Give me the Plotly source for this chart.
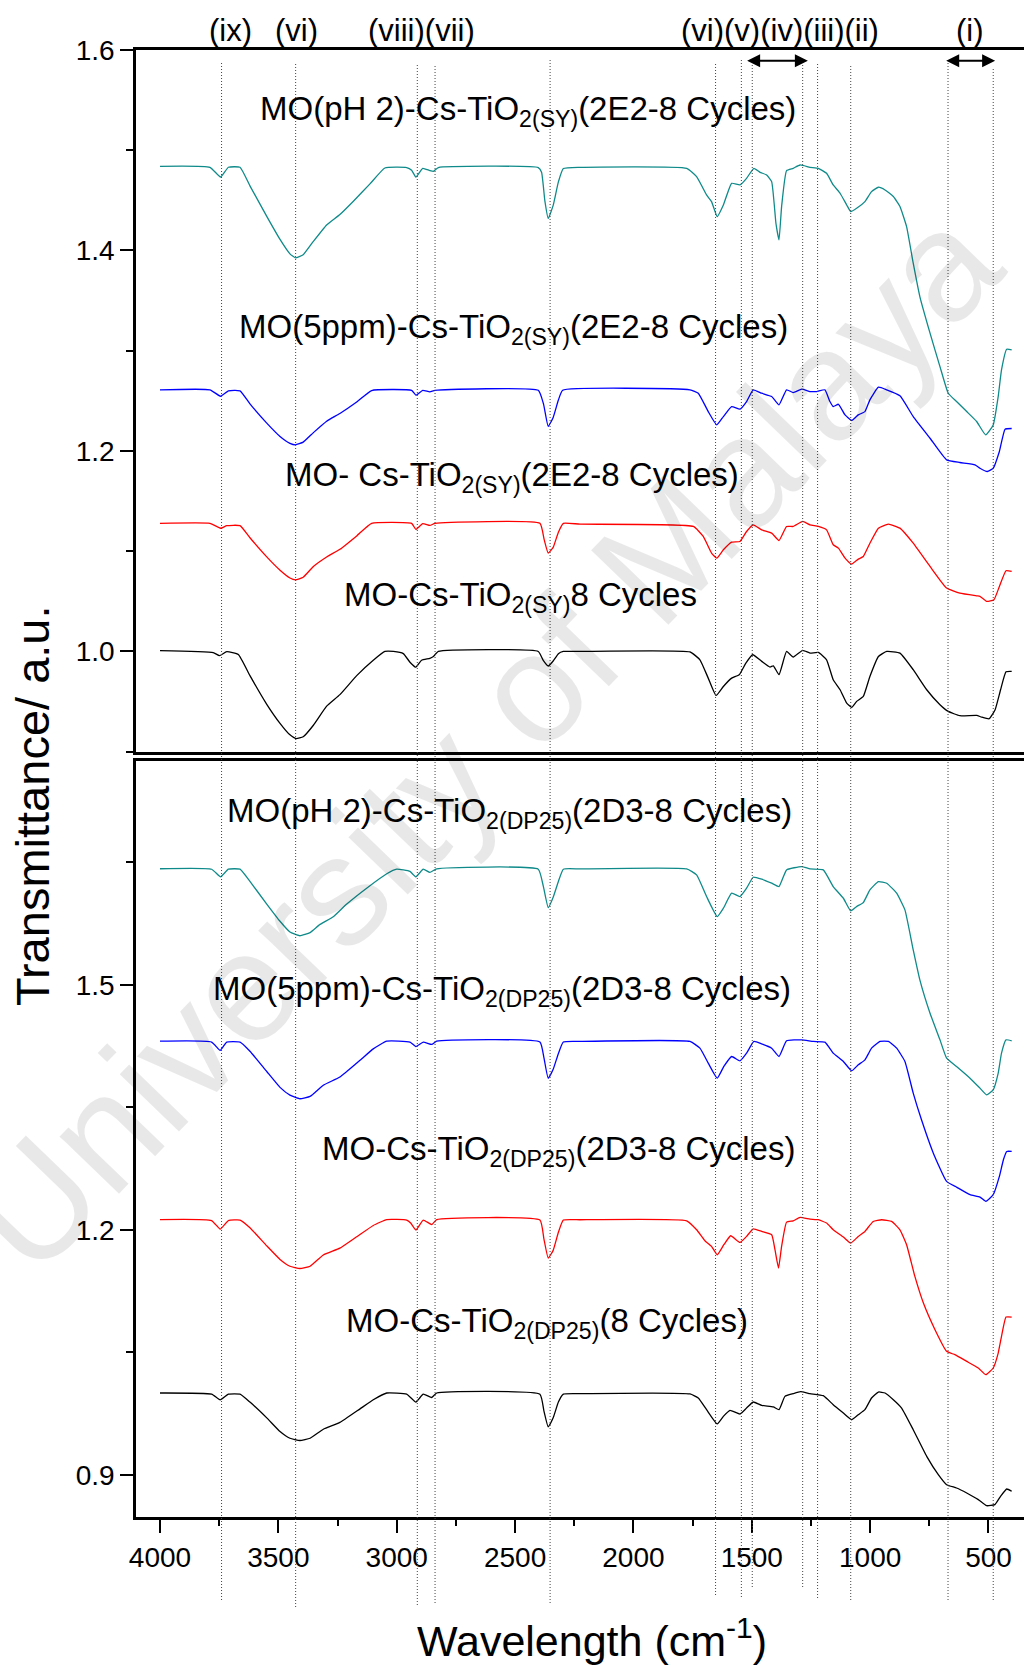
import plotly.graph_objects as go

# ---------------- spectra: wavenumber (cm-1) and transmittance ----------------
# Upper panel: Cs-TiO2(SY) series
teal_sy_wn = [4000, 3789, 3744, 3711, 3662, 3620, 3549, 3493, 3451, 3428, 3395, 3352, 3296, 3240,
              3183, 3113, 3050, 2958, 2937, 2919, 2890, 2860, 2845, 2824, 2402, 2388, 2374, 2360,
              2339, 2317, 2296, 2226, 1775, 1733, 1691, 1670, 1646, 1620, 1585, 1550, 1522, 1491,
              1465, 1437, 1416, 1398, 1385, 1374, 1353, 1325, 1296, 1254, 1219, 1184, 1156, 1127,
              1099, 1082, 1057, 1022, 994, 965, 937, 902, 874, 846, 818, 790, 747, 705, 670, 635,
              592, 550, 512, 480, 459, 445, 423, 402]
teal_sy_t = [1.484, 1.483, 1.4733, 1.483, 1.483, 1.4645, 1.434, 1.411, 1.3966, 1.3927, 1.3958, 1.4091,
             1.4255, 1.4359, 1.4492, 1.4664, 1.4823, 1.4827, 1.4800, 1.4733, 1.4820, 1.4797, 1.4790,
             1.4827, 1.4827, 1.4780, 1.4492, 1.4320, 1.4450, 1.4684, 1.4817, 1.4830, 1.4820, 1.4737,
             1.4554, 1.4488, 1.4338, 1.4454, 1.4670, 1.4654, 1.4720, 1.4820, 1.4780, 1.4753, 1.4687,
             1.4272, 1.4105, 1.4438, 1.4797, 1.4820, 1.4853, 1.4830, 1.4820, 1.4770, 1.4654, 1.4571,
             1.4454, 1.4388, 1.4421, 1.4488, 1.4587, 1.4631, 1.4604, 1.4538, 1.4438, 1.4238, 1.3873,
             1.3540, 1.3175, 1.2842, 1.2576, 1.2493, 1.2393, 1.2294, 1.2160, 1.2260, 1.2543, 1.2809,
             1.3015, 1.3008]

blue_sy_wn = [4000, 3789, 3744, 3711, 3662, 3620, 3549, 3493, 3451, 3428, 3395, 3352, 3296, 3240,
              3169, 3106, 2937, 2919, 2890, 2860, 2838, 2402, 2380, 2360, 2339, 2317, 2299, 1761,
              1726, 1684, 1648, 1620, 1585, 1550, 1522, 1494, 1458, 1416, 1385, 1353, 1325, 1289,
              1254, 1226, 1191, 1170, 1156, 1134, 1106, 1078, 1050, 1022, 1001, 965, 930, 874, 818,
              747, 677, 621, 557, 536, 505, 480, 454, 430, 402]
blue_sy_t = [1.261, 1.261, 1.2546, 1.260, 1.260, 1.247, 1.2278, 1.2145, 1.2076, 1.2061, 1.2088,
             1.2183, 1.2297, 1.2374, 1.2488, 1.2603, 1.2605, 1.2557, 1.2605, 1.2590, 1.2605, 1.2605,
             1.2470, 1.2245, 1.2335, 1.2508, 1.2605, 1.2610, 1.2576, 1.2393, 1.2260, 1.2343, 1.2443,
             1.2417, 1.2493, 1.2610, 1.2576, 1.2543, 1.2460, 1.2610, 1.2583, 1.2616, 1.2593, 1.2593,
             1.2610, 1.2493, 1.2443, 1.2466, 1.2360, 1.2304, 1.2360, 1.2393, 1.2510, 1.2636, 1.2610,
             1.2550, 1.2343, 1.2127, 1.1911, 1.1885, 1.1862, 1.1828, 1.1795, 1.1828, 1.1995, 1.2217,
             1.2224]

red_sy_wn = [4000, 3789, 3744, 3718, 3662, 3620, 3549, 3493, 3451, 3428, 3395, 3352, 3296, 3240,
             3169, 3106, 2937, 2919, 2890, 2860, 2838, 2395, 2377, 2360, 2339, 2317, 2296, 2226,
             1747, 1705, 1670, 1648, 1620, 1585, 1550, 1522, 1494, 1458, 1416, 1385, 1353, 1325,
             1285, 1254, 1219, 1184, 1156, 1134, 1106, 1078, 1050, 1029, 1001, 965, 923, 874, 818,
             747, 677, 621, 550, 536, 508, 477, 454, 426, 402]
red_sy_t = [1.1278, 1.1278, 1.1229, 1.1255, 1.1255, 1.1134, 1.0943, 1.0810, 1.0733, 1.0714, 1.0741,
            1.0848, 1.0943, 1.1019, 1.1153, 1.1278, 1.1278, 1.1217, 1.1275, 1.1257, 1.1278, 1.1278,
            1.1115, 1.0981, 1.1038, 1.1190, 1.1278, 1.1270, 1.1247, 1.1147, 1.0981, 1.0931, 1.1014,
            1.1090, 1.1097, 1.1197, 1.1263, 1.1213, 1.1180, 1.1107, 1.1247, 1.1247, 1.1297, 1.1263,
            1.1247, 1.1213, 1.1064, 1.1031, 1.0931, 1.0871, 1.0921, 1.0947, 1.1080, 1.1230, 1.1270,
            1.1230, 1.1080, 1.0848, 1.0632, 1.0582, 1.0555, 1.0550, 1.0499, 1.0516, 1.0648, 1.0805,
            1.0798]

black_sy_wn = [4000, 3775, 3749, 3718, 3669, 3620, 3549, 3493, 3451, 3425, 3395, 3352, 3296, 3240,
               3169, 3099, 3050, 3014, 2972, 2944, 2919, 2895, 2860, 2845, 2824, 2402, 2381, 2360,
               2339, 2317, 2296, 2226, 1761, 1719, 1684, 1651, 1620, 1585, 1553, 1525, 1496, 1458,
               1423, 1409, 1385, 1353, 1325, 1285, 1254, 1219, 1184, 1156, 1127, 1099, 1078, 1057,
               1029, 1001, 965, 930, 874, 818, 761, 705, 670, 621, 550, 529, 497, 472, 449, 426, 402]
black_sy_t = [1.0008, 0.9988, 0.9958, 0.9998, 0.9970, 0.9759, 0.9473, 0.9283, 0.9168, 0.9130,
              0.9149, 0.9264, 0.9454, 0.9569, 0.9759, 0.9912, 1.0000, 1.0000, 0.9978, 0.9893,
              0.9843, 0.9912, 0.9931, 0.9950, 1.0000, 1.0000, 0.9912, 0.9855, 0.9905, 0.9978,
              1.0000, 1.0000, 0.9995, 0.9917, 0.9734, 0.9561, 0.9651, 0.9734, 0.9768, 0.9884,
              0.9967, 0.9901, 0.9844, 0.9857, 0.9768, 1.0000, 0.9944, 1.0011, 0.9984, 0.9990,
              0.9917, 0.9718, 0.9618, 0.9485, 0.9442, 0.9502, 0.9551, 0.9751, 0.9950, 1.0000,
              0.9984, 0.9818, 0.9618, 0.9469, 0.9402, 0.9359, 0.9362, 0.9345, 0.9329, 0.9419,
              0.9618, 0.9797, 0.9801]

# Lower panel: Cs-TiO2(DP25) series
teal_dp_wn = [4000, 3782, 3744, 3711, 3662, 3620, 3549, 3493, 3451, 3409, 3366, 3324, 3268, 3211,
              3127, 3042, 3000, 2944, 2919, 2888, 2860, 2831, 2402, 2381, 2360, 2339, 2317, 2296,
              2226, 1775, 1733, 1691, 1646, 1620, 1585, 1550, 1522, 1494, 1458, 1416, 1385, 1353,
              1289, 1254, 1198, 1156, 1113, 1082, 1057, 1029, 1001, 965, 930, 888, 853, 818, 790,
              747, 705, 677, 635, 578, 536, 508, 480, 459, 445, 426, 402]
teal_dp_t = [1.6421, 1.6415, 1.6322, 1.6416, 1.6416, 1.6266, 1.5989, 1.5778, 1.5646, 1.5601, 1.5640,
             1.5740, 1.5834, 1.5989, 1.6183, 1.6360, 1.6416, 1.6388, 1.6322, 1.6416, 1.6377, 1.6421,
             1.6416, 1.6211, 1.5945, 1.6072, 1.6266, 1.6416, 1.6419, 1.6419, 1.6346, 1.6081, 1.5836,
             1.5938, 1.6122, 1.6081, 1.6183, 1.6317, 1.6293, 1.6244, 1.6203, 1.6407, 1.6448, 1.6419,
             1.6407, 1.6203, 1.6060, 1.5905, 1.5959, 1.6007, 1.6162, 1.6264, 1.6244, 1.6122, 1.5918,
             1.5428, 1.5061, 1.4653, 1.4327, 1.4103, 1.4001, 1.3858, 1.3736, 1.3654, 1.3715, 1.3919,
             1.4164, 1.4327, 1.4315]

blue_dp_wn = [4000, 3782, 3746, 3718, 3662, 3620, 3549, 3493, 3451, 3409, 3366, 3310, 3240, 3155,
              3099, 3042, 2944, 2919, 2888, 2852, 2831, 2395, 2378, 2360, 2339, 2317, 2296, 2226,
              1761, 1719, 1684, 1646, 1618, 1585, 1550, 1522, 1491, 1458, 1416, 1385, 1353, 1289,
              1240, 1191, 1156, 1113, 1078, 1050, 1022, 994, 958, 923, 888, 853, 818, 783, 733,
              677, 635, 578, 536, 511, 480, 454, 437, 423, 402]
blue_dp_t = [1.4310, 1.4300, 1.4199, 1.4300, 1.4300, 1.4188, 1.3939, 1.3745, 1.3650, 1.3606, 1.3634,
             1.3772, 1.3872, 1.4077, 1.4216, 1.4310, 1.4300, 1.4244, 1.4300, 1.4271, 1.4310, 1.4300,
             1.4105, 1.3856, 1.3966, 1.4160, 1.4300, 1.4307, 1.4307, 1.4225, 1.4042, 1.3858, 1.4001,
             1.4123, 1.4070, 1.4164, 1.4307, 1.4278, 1.4225, 1.4123, 1.4315, 1.4327, 1.4307, 1.4299,
             1.4164, 1.4062, 1.3948, 1.4021, 1.4082, 1.4225, 1.4307, 1.4307, 1.4225, 1.4062, 1.3675,
             1.3348, 1.2940, 1.2594, 1.2524, 1.2431, 1.2402, 1.2349, 1.2431, 1.2655, 1.2859, 1.2961,
             1.2961]

red_dp_wn = [4000, 3782, 3746, 3711, 3662, 3620, 3549, 3493, 3451, 3409, 3366, 3310, 3240, 3169,
             3099, 3042, 2958, 2941, 2919, 2888, 2852, 2831, 2395, 2378, 2360, 2339, 2317, 2296,
             2226, 1775, 1733, 1698, 1670, 1646, 1618, 1589, 1550, 1522, 1494, 1458, 1416, 1402,
             1387, 1374, 1353, 1325, 1296, 1254, 1219, 1184, 1156, 1113, 1082, 1050, 1022, 987, 951,
             909, 874, 846, 811, 775, 726, 677, 642, 592, 543, 511, 480, 459, 445, 426, 402]
red_dp_t = [1.2127, 1.2115, 1.2010, 1.2115, 1.2121, 1.2027, 1.1805, 1.1639, 1.1556, 1.1528, 1.1556,
            1.1694, 1.1777, 1.1916, 1.2055, 1.2127, 1.2121, 1.2085, 1.1999, 1.2121, 1.2066, 1.2127,
            1.2121, 1.1888, 1.1656, 1.1750, 1.1971, 1.2121, 1.2125, 1.2112, 1.2002, 1.1868, 1.1799,
            1.1696, 1.1819, 1.1929, 1.1847, 1.1921, 1.2014, 1.1982, 1.1941, 1.1758, 1.1533, 1.1799,
            1.2096, 1.2112, 1.2153, 1.2133, 1.2125, 1.2084, 1.2002, 1.1913, 1.1839, 1.1921, 1.1982,
            1.2104, 1.2125, 1.2104, 1.2002, 1.1819, 1.1431, 1.1105, 1.0779, 1.0514, 1.0473, 1.0391,
            1.0310, 1.0228, 1.0310, 1.0493, 1.0697, 1.0934, 1.0934]

black_dp_wn = [4000, 3782, 3746, 3711, 3662, 3620, 3549, 3493, 3451, 3409, 3366, 3310, 3240, 3155,
               3099, 3042, 2958, 2919, 2888, 2852, 2831, 2395, 2378, 2360, 2339, 2317, 2296, 2226,
               1761, 1726, 1691, 1646, 1620, 1592, 1550, 1522, 1494, 1458, 1409, 1385, 1360, 1325,
               1294, 1254, 1198, 1156, 1113, 1078, 1050, 1022, 994, 965, 937, 902, 867, 818, 761,
               712, 677, 635, 592, 543, 508, 473, 449, 423, 402]
black_dp_t = [1.0004, 0.9990, 0.9921, 0.9990, 0.9990, 0.9893, 0.9700, 0.9533, 0.9450, 0.9423,
              0.9450, 0.9561, 0.9644, 0.9810, 0.9921, 1.0004, 0.9990, 0.9893, 0.9990, 0.9949,
              1.0004, 0.9990, 0.9782, 0.9589, 0.9700, 0.9893, 0.9990, 0.9996, 0.9992, 0.9943,
              0.9800, 0.9625, 0.9718, 0.9792, 0.9747, 0.9820, 0.9894, 0.9853, 0.9833, 0.9800,
              0.9963, 0.9996, 1.0020, 0.9996, 0.9971, 0.9861, 0.9759, 0.9677, 0.9739, 0.9800,
              0.9943, 1.0016, 1.0004, 0.9922, 0.9820, 0.9555, 0.9229, 0.9005, 0.8882, 0.8841,
              0.8780, 0.8699, 0.8625, 0.8638, 0.8740, 0.8829, 0.8801]

series_colors = ["#0f8a8a", "#0000ff", "#ff0000", "#000000"]

top_series = [(teal_sy_wn, teal_sy_t), (blue_sy_wn, blue_sy_t),
              (red_sy_wn, red_sy_t), (black_sy_wn, black_sy_t)]
bottom_series = [(teal_dp_wn, teal_dp_t), (blue_dp_wn, blue_dp_t),
                 (red_dp_wn, red_dp_t), (black_dp_wn, black_dp_t)]

# curve captions: (text, left wavenumber, transmittance level)
top_labels = [
    ("MO(pH 2)-Cs-TiO<sub>2(SY)</sub>(2E2-8 Cycles)", 3586, 1.5394),
    ("MO(5ppm)-Cs-TiO<sub>2(SY)</sub>(2E2-8 Cycles)", 3675, 1.3213),
    ("MO- Cs-TiO<sub>2(SY)</sub>(2E2-8 Cycles)", 3480, 1.1745),
    ("MO-Cs-TiO<sub>2(SY)</sub>8 Cycles", 3231, 1.0545),
]
bottom_labels = [
    ("MO(pH 2)-Cs-TiO<sub>2(DP25)</sub>(2D3-8 Cycles)", 3725, 1.7098),
    ("MO(5ppm)-Cs-TiO<sub>2(DP25)</sub>(2D3-8 Cycles)", 3785, 1.4927),
    ("MO-Cs-TiO<sub>2(DP25)</sub>(2D3-8 Cycles)", 3324, 1.2969),
    ("MO-Cs-TiO<sub>2(DP25)</sub>(8 Cycles)", 3223, 1.0864),
]

# band markers: wavenumber, top and bottom pixel row of the dotted guide
band_wn = [3740, 3427, 2913, 2838, 2352, 1653, 1544, 1498, 1285, 1222, 1082, 671, 480]
band_top_px = [62, 62, 65, 65, 60, 62, 60, 65, 62, 64, 65, 58, 68]
band_bottom_px = [1600, 1607, 1605, 1603, 1603, 1595, 1597, 1587, 1587, 1598, 1600, 1600, 1600]

# band names written above the frame: (text, centre wavenumber)
band_names = [("(ix)", 3704), ("(vi)", 3423), ("(viii)(vii)", 2897),
              ("(vi)(v)(iv)(iii)(ii)", 1381), ("(i)", 578)]

# double arrows spanning band ranges
arrow_spans = [(1526, 1263), (685, 472)]

W, H = 1024, 1665
FONT = "Liberation Sans, Arial, sans-serif"


def py(px):
    """pixel row -> paper fraction"""
    return 1 - px / H


fig = go.Figure()

for (wn, t), c in zip(top_series, series_colors):
    fig.add_trace(go.Scatter(x=wn, y=t, mode="lines", xaxis="x2", yaxis="y2",
                             line=dict(color=c, width=1.3, shape="spline", smoothing=0.4),
                             showlegend=False, hoverinfo="skip"))
for (wn, t), c in zip(bottom_series, series_colors):
    fig.add_trace(go.Scatter(x=wn, y=t, mode="lines", xaxis="x", yaxis="y",
                             line=dict(color=c, width=1.3, shape="spline", smoothing=0.4),
                             showlegend=False, hoverinfo="skip"))

shapes = []
for wn, top, bot in zip(band_wn, band_top_px, band_bottom_px):
    shapes.append(dict(type="line", xref="x", yref="paper", x0=wn, x1=wn,
                       y0=py(bot), y1=py(top),
                       line=dict(color="#444444", width=1, dash="1px,2px"), layer="above"))

annotations = []
for text, wn, lvl in top_labels:
    annotations.append(dict(text=text, x=wn, y=lvl, xref="x2", yref="y2",
                            xanchor="left", yanchor="middle", showarrow=False,
                            font=dict(family=FONT, size=33, color="black")))
for text, wn, lvl in bottom_labels:
    annotations.append(dict(text=text, x=wn, y=lvl, xref="x", yref="y",
                            xanchor="left", yanchor="middle", showarrow=False,
                            font=dict(family=FONT, size=33, color="black")))
for text, wn in band_names:
    annotations.append(dict(text=text, x=wn, y=py(31), xref="x", yref="paper",
                            xanchor="center", yanchor="middle", showarrow=False,
                            font=dict(family=FONT, size=31, color="black")))
for a, b in arrow_spans:
    annotations.append(dict(x=b, y=1.5893, ax=a, ay=1.5893, xref="x2", yref="y2",
                            axref="x2", ayref="y2", text="", showarrow=True,
                            arrowhead=2, startarrowhead=2, arrowside="end+start",
                            arrowsize=1.3, startarrowsize=1.3, arrowwidth=2,
                            arrowcolor="black"))

# axis titles
annotations.append(dict(text="Transmittance/ a.u.", x=(32 - 136) / 888, y=py(806),
                        xref="paper", yref="paper", textangle=-90, showarrow=False,
                        xanchor="center", yanchor="middle",
                        font=dict(family=FONT, size=47, color="black")))
annotations.append(dict(text="Wavelength (cm<sup>-1</sup>)", x=(592 - 136) / 888, y=py(1638),
                        xref="paper", yref="paper", showarrow=False,
                        xanchor="center", yanchor="middle",
                        font=dict(family=FONT, size=43, color="black")))

# institutional watermark
annotations.append(dict(text="University of Malaya", x=(482 - 136) / 888, y=py(740),
                        xref="paper", yref="paper", textangle=-46, showarrow=False,
                        xanchor="center", yanchor="middle",
                        font=dict(family=FONT, size=156, color="rgba(0,0,0,0.09)")))

axis_common = dict(showgrid=False, zeroline=False, showline=True, linecolor="black",
                   linewidth=2.5, tickcolor="black", tickwidth=2, automargin=False,
                   tickfont=dict(family=FONT, size=28, color="black"))

fig.update_layout(
    width=W, height=H,
    margin=dict(l=136, r=0, t=0, b=0, autoexpand=False),
    paper_bgcolor="white", plot_bgcolor="white",
    showlegend=False,
    xaxis=dict(domain=[0, 1], anchor="y", range=[4101.4, 350],
               tickmode="linear", tick0=500, dtick=500, ticks="outside", ticklen=14,
               minor=dict(ticks="outside", dtick=250, tick0=250, ticklen=7,
                          tickcolor="black", tickwidth=2),
               mirror=True, **axis_common),
    yaxis=dict(domain=[py(1516.7), py(761)], anchor="x", range=[0.849, 1.774],
               tickmode="linear", tick0=0.9, dtick=0.3, tickformat=".1f",
               ticks="outside", ticklen=13,
               minor=dict(ticks="outside", dtick=0.15, tick0=0.9, ticklen=7,
                          tickcolor="black", tickwidth=2),
               **axis_common),
    xaxis2=dict(domain=[0, 1], anchor="y2", range=[4101.4, 350], matches="x",
                showticklabels=False, ticks="", mirror=True, **axis_common),
    yaxis2=dict(domain=[py(751.7), py(50)], anchor="x2", range=[0.9, 1.6],
                tickmode="linear", tick0=1.0, dtick=0.2, tickformat=".1f",
                ticks="outside", ticklen=13,
                minor=dict(ticks="outside", dtick=0.1, tick0=0.9, ticklen=7,
                           tickcolor="black", tickwidth=2),
                **axis_common),
    shapes=shapes,
    annotations=annotations,
)

fig.write_html("out.html")
